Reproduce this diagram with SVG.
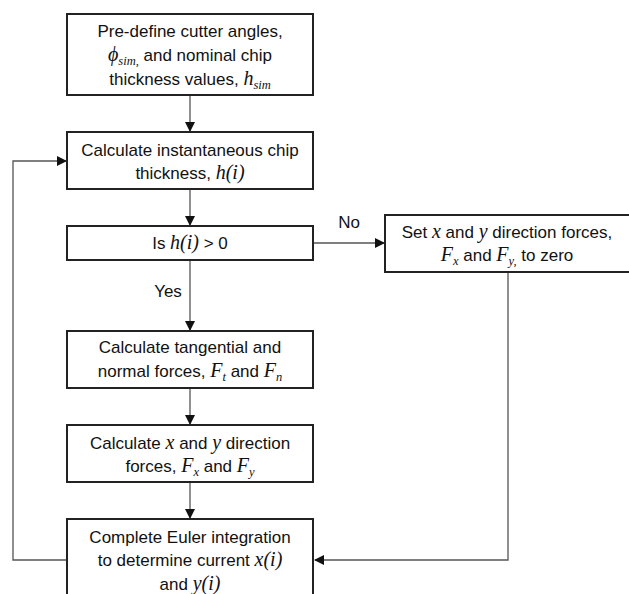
<svg xmlns="http://www.w3.org/2000/svg" width="629" height="594" viewBox="0 0 629 594">
<style>
.box{fill:#fff;stroke:#222;stroke-width:2}
.t{font-family:"Liberation Sans",Arial,sans-serif;font-size:17px;fill:#111;text-anchor:middle}
.m{font-family:"Liberation Serif","Times New Roman",serif;font-style:italic;font-size:20px}
.s{font-size:12.5px}
.c{fill:none;stroke:#555;stroke-width:1.3}
</style>
<defs>
<marker id="ah" markerWidth="10" markerHeight="10" refX="9" refY="5" orient="auto" markerUnits="userSpaceOnUse">
<path d="M0,0 L10,5 L0,10 Z" fill="#111"/>
</marker>
</defs>
<rect width="629" height="594" fill="#fff"/>
<g id="connectors">
<line class="c" x1="190" y1="95" x2="190" y2="131" marker-end="url(#ah)"/>
<line class="c" x1="190" y1="190" x2="190" y2="225" marker-end="url(#ah)"/>
<line class="c" x1="190" y1="261" x2="190" y2="330" marker-end="url(#ah)"/>
<line class="c" x1="190" y1="389" x2="190" y2="424" marker-end="url(#ah)"/>
<line class="c" x1="190" y1="483" x2="190" y2="518" marker-end="url(#ah)"/>
<line class="c" x1="314" y1="243" x2="384" y2="243" marker-end="url(#ah)"/>
<polyline class="c" points="508,273 508,560 315,560" marker-end="url(#ah)"/>
<polyline class="c" points="66,560 13,560 13,161 66,161" marker-end="url(#ah)"/>
<text class="t" x="349" y="228">No</text>
<text class="t" x="168" y="297">Yes</text>
</g>
<g id="n1">
<rect class="box" x="67" y="14" width="246" height="81"/>
<text class="t" x="190" y="37">Pre-define cutter angles,</text>
<text class="t" x="190" y="61"><tspan class="m">ϕ</tspan><tspan class="m s" dy="4">sim</tspan><tspan class="m s">,</tspan><tspan dy="-4"> and nominal chip</tspan></text>
<text class="t" x="190" y="85">thickness values, <tspan class="m">h</tspan><tspan class="m s" dy="4">sim</tspan></text>
</g>
<g id="n2">
<rect class="box" x="67" y="132" width="246" height="57"/>
<text class="t" x="190" y="156">Calculate instantaneous chip</text>
<text class="t" x="190" y="179">thickness, <tspan class="m">h(i)</tspan></text>
</g>
<g id="n3">
<rect class="box" x="67" y="226" width="246" height="34"/>
<text class="t" x="190" y="249">Is <tspan class="m">h(i)</tspan> &gt; 0</text>
</g>
<g id="n_zero">
<rect class="box" x="385" y="215" width="252" height="57"/>
<text class="t" x="507" y="238">Set <tspan class="m">x</tspan> and <tspan class="m">y</tspan> direction forces,</text>
<text class="t" x="507" y="261"><tspan class="m">F</tspan><tspan class="m s" dy="4">x</tspan><tspan dy="-4"> and </tspan><tspan class="m">F</tspan><tspan class="m s" dy="4">y</tspan><tspan class="m s">,</tspan><tspan dy="-4"> to zero</tspan></text>
</g>
<g id="n4">
<rect class="box" x="67" y="331" width="246" height="57"/>
<text class="t" x="190" y="353">Calculate tangential and</text>
<text class="t" x="190" y="377">normal forces, <tspan class="m">F</tspan><tspan class="m s" dy="4">t</tspan><tspan dy="-4"> and </tspan><tspan class="m">F</tspan><tspan class="m s" dy="4">n</tspan></text>
</g>
<g id="n5">
<rect class="box" x="67" y="425" width="246" height="57"/>
<text class="t" x="190" y="449">Calculate <tspan class="m">x</tspan> and <tspan class="m">y</tspan> direction</text>
<text class="t" x="190" y="472">forces, <tspan class="m">F</tspan><tspan class="m s" dy="4">x</tspan><tspan dy="-4"> and </tspan><tspan class="m">F</tspan><tspan class="m s" dy="4">y</tspan></text>
</g>
<g id="n6">
<rect class="box" x="67" y="519" width="246" height="90"/>
<text class="t" x="190" y="543">Complete Euler integration</text>
<text class="t" x="190" y="566">to determine current <tspan class="m">x(i)</tspan></text>
<text class="t" x="190" y="590">and <tspan class="m">y(i)</tspan></text>
</g>
</svg>
